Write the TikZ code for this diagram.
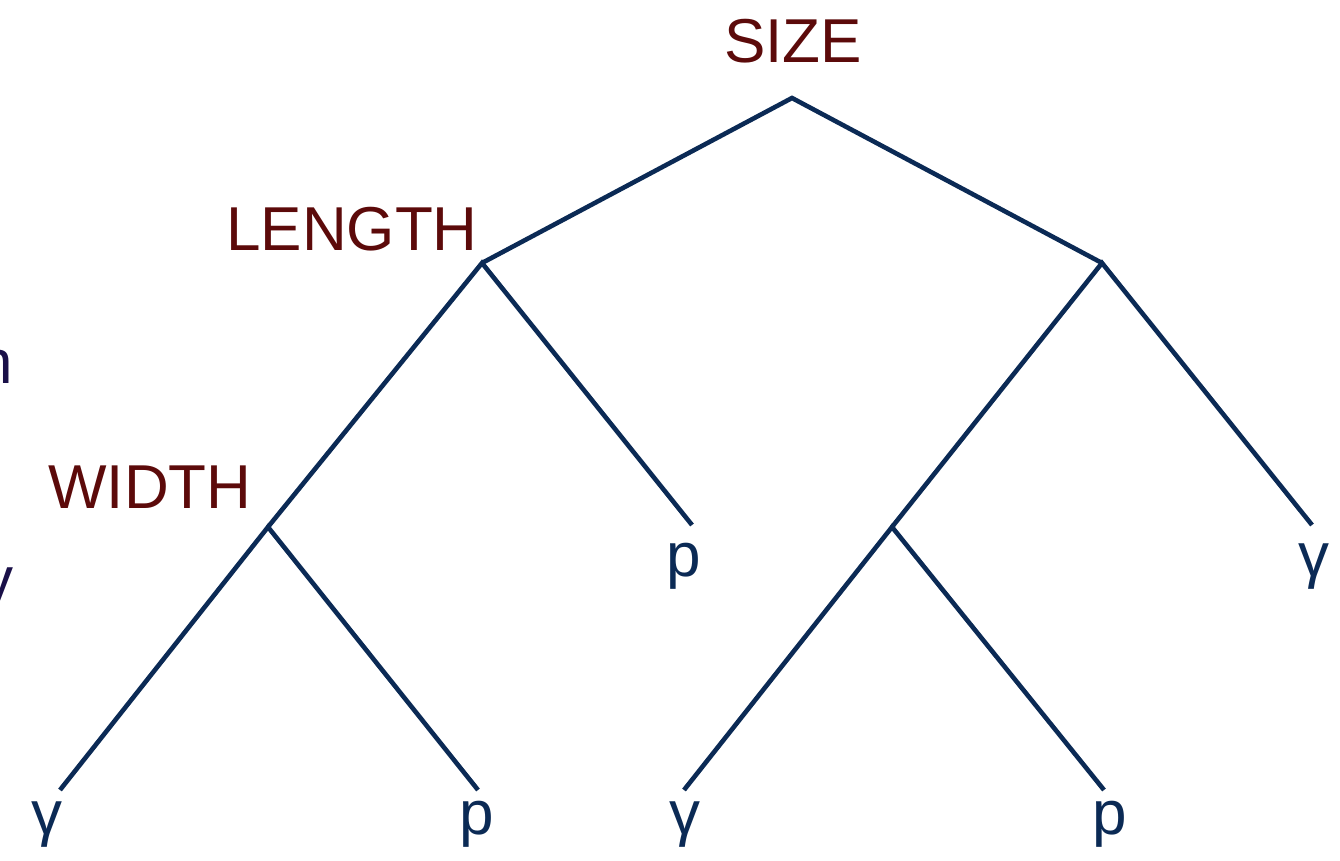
\documentclass[tikz,border=0pt]{standalone}
\usepackage{fontspec}
\setmainfont{Liberation Sans}
\definecolor{lblred}{HTML}{5C0A0A}
\definecolor{navy}{HTML}{0B2A55}
\definecolor{inkpurple}{HTML}{1A1048}
\begin{document}
\begin{tikzpicture}[x=1pt,y=-1pt,
  branch/.style={draw=navy,line width=4.6pt},
  featlbl/.style={text=lblred,font=\fontsize{62}{70}\selectfont,anchor=base,inner sep=0pt},
  leaflbl/.style={text=navy,font=\fontsize{62}{70}\selectfont,anchor=base,inner sep=0pt},
  cutlbl/.style={text=inkpurple,font=\fontsize{62}{70}\selectfont,anchor=base west,inner sep=0pt}]
\useasboundingbox (0,0) rectangle (1340,861);
\begin{scope}
\clip (0,0) rectangle (1340,861);
% cut-off text at left edge
\node[cutlbl] (cutn) at (-22,383) {n};
\node[cutlbl] (cuty) at (-18,600) {y};
\end{scope}
% junctions
\coordinate (root) at (792,98);
\coordinate (len) at (482,263);
\coordinate (rj) at (1102,263);
\coordinate (wid) at (268,527);
\coordinate (rl) at (892,527);
% leaf ends
\coordinate (e1) at (692,525);
\coordinate (e2) at (1312,525);
\coordinate (e3) at (60,790);
\coordinate (e4) at (478,790);
\coordinate (e5) at (684,790);
\coordinate (e6) at (1104,790);
% branches
\draw[branch] (len) -- (root) -- (rj);
\draw[branch] (wid) -- (len) -- (e1);
\draw[branch] (rl) -- (rj) -- (e2);
\draw[branch] (e3) -- (wid) -- (e4);
\draw[branch] (e5) -- (rl) -- (e6);
% feature labels
\node[featlbl] (lsize) at (793,63) {SIZE};
\node[featlbl] (llen) at (352,250) {LENGTH};
\node[featlbl] (lwid) at (150,508) {WIDTH};
% leaf labels
\node[leaflbl] (l1) at (684,576) {p};
\node[leaflbl] (l2) at (1314,576) {γ};
\node[leaflbl] (l3) at (47,834) {γ};
\node[leaflbl] (l4) at (477,834) {p};
\node[leaflbl] (l5) at (685,834) {γ};
\node[leaflbl] (l6) at (1110,834) {p};
\end{tikzpicture}
\end{document}
